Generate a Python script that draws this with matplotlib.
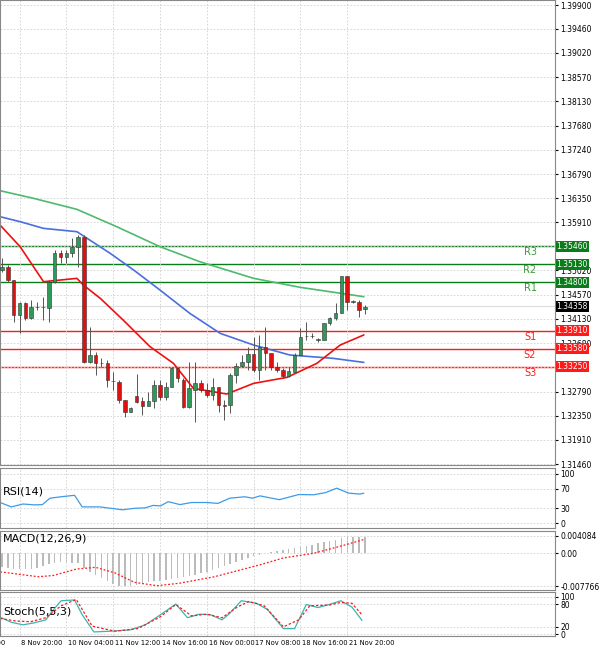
import matplotlib.pyplot as plt
import matplotlib.transforms as mtransforms
import numpy as np

# candles (open, high, low, close)
opens = [1.35027, 1.35088, 1.34843, 1.34199, 1.34414, 1.34138, 1.34353, 1.34347, 1.34322, 1.34812,
         1.35333, 1.35260, 1.35333, 1.35456, 1.35640, 1.33341, 1.33464, 1.33323, 1.33323, 1.32992,
         1.32974, 1.32636, 1.32422, 1.32710, 1.32618, 1.32526, 1.32618, 1.32912, 1.32698, 1.32882,
         1.33219, 1.33004, 1.32514, 1.32820, 1.32943, 1.32820, 1.32728, 1.32869, 1.32544, 1.32544,
         1.33096, 1.33262, 1.33341, 1.33482, 1.33188, 1.33617, 1.33494, 1.33249, 1.33188, 1.33078,
         1.33157, 1.33464, 1.33819, 1.33813, 1.33740, 1.33740, 1.34046, 1.34138, 1.34242, 1.34917,
         1.34445, 1.34445, 1.34304]
closes = [1.35088, 1.34843, 1.34199, 1.34414, 1.34138, 1.34353, 1.34347, 1.34353, 1.34812, 1.35333,
          1.35260, 1.35333, 1.35456, 1.35640, 1.33341, 1.33464, 1.33311, 1.33317, 1.33004, 1.32986,
          1.32636, 1.32422, 1.32483, 1.32606, 1.32526, 1.32618, 1.32912, 1.32698, 1.32882, 1.33219,
          1.33035, 1.32514, 1.32851, 1.32943, 1.32820, 1.32728, 1.32869, 1.32544, 1.32532, 1.33096,
          1.33262, 1.33341, 1.33482, 1.33188, 1.33617, 1.33494, 1.33249, 1.33188, 1.33078, 1.33176,
          1.33464, 1.33801, 1.33813, 1.33819, 1.33752, 1.34046, 1.34138, 1.34242, 1.34917, 1.34445,
          1.34451, 1.34291, 1.34353]
highs = [1.35242, 1.35119, 1.34843, 1.34445, 1.34445, 1.34475, 1.34445, 1.34537, 1.34843, 1.35395,
         1.35395, 1.35395, 1.35610, 1.35671, 1.35671, 1.33985, 1.33525, 1.33403, 1.33372, 1.33157,
         1.33004, 1.32636, 1.32514, 1.33114, 1.32698, 1.32790, 1.33004, 1.33004, 1.32974, 1.33249,
         1.33249, 1.33035, 1.33341, 1.33341, 1.33004, 1.32943, 1.33035, 1.32882, 1.32636, 1.33127,
         1.33311, 1.33464, 1.33617, 1.33801, 1.33832, 1.33985, 1.33494, 1.33341, 1.33219, 1.33249,
         1.33494, 1.33955, 1.34077, 1.33862, 1.33770, 1.34046, 1.34169, 1.34414, 1.34917, 1.34917,
         1.34475, 1.34475, 1.34383]
lows = [1.34996, 1.34812, 1.34077, 1.33862, 1.34108, 1.34120, 1.34291, 1.34108, 1.34077, 1.34782,
        1.35150, 1.35150, 1.35272, 1.35088, 1.33311, 1.33311, 1.33096, 1.33249, 1.32882, 1.32820,
        1.32575, 1.32330, 1.32422, 1.32575, 1.32361, 1.32526, 1.32483, 1.32637, 1.32637, 1.32882,
        1.32974, 1.32483, 1.32483, 1.32238, 1.32790, 1.32698, 1.32637, 1.32422, 1.32269, 1.32391,
        1.32943, 1.33249, 1.33188, 1.33157, 1.33004, 1.33188, 1.33188, 1.33157, 1.33035, 1.33066,
        1.33157, 1.33464, 1.33740, 1.33770, 1.33709, 1.33740, 1.34016, 1.34108, 1.34230, 1.34291,
        1.34414, 1.34169, 1.34218]

# moving averages (bar index, price)
ma_green_x = [-0.34, 5.4, 12.8, 19.6, 27.0, 33.8, 43.0, 51.0, 61.8]
ma_green_y = [1.36486, 1.36345, 1.36143, 1.35824, 1.35456, 1.35180, 1.34874, 1.34708, 1.34537]
ma_blue_x = [-0.34, 3.1, 7.1, 12.8, 18.5, 22.5, 27.0, 32.1, 37.3, 43.0, 49.2, 56.6, 61.8]
ma_blue_y = [1.36008, 1.35916, 1.35793, 1.35732, 1.35333, 1.35027, 1.34659, 1.34230, 1.33862,
             1.33648, 1.33464, 1.33403, 1.33329]
ma_red_x = [-0.34, 3.1, 7.1, 12.8, 13.9, 16.8, 20.7, 25.3, 29.3, 32.7, 38.4, 43.0, 48.7, 53.8, 57.8, 61.8]
ma_red_y = [1.35855, 1.35456, 1.34812, 1.34874, 1.34751, 1.34506, 1.34108, 1.33617, 1.33311, 1.32851,
            1.32747, 1.32943, 1.33053, 1.33311, 1.33648, 1.33832]

res_names = ["R3", "R2", "R1"]
res_levels = [1.35460, 1.35130, 1.34800]
sup_names = ["S1", "S2", "S3"]
sup_levels = [1.33910, 1.33580, 1.33250]
last_price = 1.34358

price_ticks = [1.39900, 1.39460, 1.39020, 1.38570, 1.38130, 1.37680, 1.37240, 1.36790, 1.36350,
               1.35910, 1.35460, 1.35020, 1.34570, 1.34130, 1.33680, 1.33240, 1.32790, 1.32350,
               1.31910, 1.31460]

rsi_x = [-0.3, 1.6, 3.6, 5.5, 6.9, 8.2, 10.1, 12.4, 13.7, 16.7, 20.6, 22.6, 24.5, 25.8, 27.1, 28.4,
         30.4, 32.4, 35.0, 36.9, 38.9, 41.5, 42.8, 44.1, 47.4, 50.7, 53.3, 55.3, 57.2, 59.2, 61.1, 61.8]
rsi_y = [41.8, 32.9, 38.8, 37.0, 37.6, 50.6, 53.5, 56.5, 32.9, 32.9, 27.0, 30.0, 31.0, 35.9, 35.0,
         43.5, 37.6, 41.8, 41.8, 40.0, 50.6, 53.5, 50.6, 55.3, 47.6, 58.0, 57.6, 62.0, 71.0, 61.0, 59.0, 60.6]

# MACD histogram, x 1e-3
macd_hist = [-3.3, -3.4, -3.6, -3.8, -3.8, -3.6, -3.4, -3.0, -2.6,
             -2.3, -2.0, -2.0, -2.2, -2.4,
             -3.5, -4.5, -5.2, -5.8, -6.5,
             -7.2, -7.6, -7.7, -7.6, -7.4, -7.0,
             -6.8, -6.6, -6.4, -6.2, -6.0, -5.8, -5.6, -5.3,
             -5.0, -4.7, -4.4, -4.0, -3.5, -3.0, -2.5, -2.0,
             -1.5, -1.0, -0.6, -0.3, 0.0, 0.2, 0.5, 0.8,
             1.0, 1.3, 1.5, 1.8, 2.0, 2.3, 2.6, 2.9,
             3.2, 3.5, 3.7, 3.9, 3.8, 3.7]
macd_sig_x = [-0.3, 6.2, 8.8, 12.7, 16.0, 19.3, 22.6, 26.5, 30.4, 36.3, 44.1, 48.1, 53.3, 58.5, 61.8]
macd_sig_y = [-4.35, -5.5, -5.2, -3.7, -3.3, -4.6, -6.8, -7.6, -7.0, -5.5, -2.7, -1.1, 0.0, 1.9, 3.2]

stk_x = [-0.3, 1.6, 3.6, 5.5, 7.5, 8.8, 10.1, 12.4, 13.7, 15.7, 18.6, 21.9, 24.5, 27.1, 29.7, 31.7,
         33.7, 35.6, 37.6, 38.9, 40.9, 43.5, 45.4, 48.1, 50.0, 52.0, 54.0, 55.9, 57.9, 59.8, 61.5]
stk_y = [45, 31.4, 24.7, 30, 38, 65, 88.8, 90.8, 51.7, 5.8, 7.8, 11.2, 24.7, 51.7, 80, 43.6,
         53, 51.7, 38, 55, 88.8, 82, 65, 14.6, 14.6, 78.7, 70.6, 78.7, 88.8, 72, 36.8]
std_x = [-0.3, 2.3, 4.9, 7.5, 10.1, 12.7, 15.4, 19.3, 23.2, 27.1, 29.7, 32.4, 35.0, 37.6, 40.2,
         42.2, 44.8, 48.1, 50.7, 52.6, 55.9, 57.9, 59.8, 61.5]
std_y = [41.7, 35, 33, 43.6, 75.3, 92.2, 21.4, 7.8, 14.6, 46.3, 78.7, 48.4, 53, 43.6, 72, 86.8,
         75.3, 19.4, 38, 75.3, 77.3, 84.1, 82, 51.7]

date_idx = [-0.3, 3, 11, 19, 27, 35, 43, 51, 59]
date_labels = ["2:00", "8 Nov 20:00", "10 Nov 04:00", "11 Nov 12:00", "14 Nov 16:00",
               "16 Nov 00:00", "17 Nov 08:00", "18 Nov 16:00", "21 Nov 20:00"]

GREEN = "#0a7d1a"
RED = "#ff1a1a"
XMAX = 94.5
XMIN = -0.34
fs = 5.5

fig = plt.figure(figsize=(6, 6.52), dpi=100)
W = 555 / 600
ax = fig.add_axes([0, 1 - 465 / 652, W, 465 / 652])
ax_rsi = fig.add_axes([0, 1 - 528 / 652, W, 60 / 652])
ax_macd = fig.add_axes([0, 1 - 590 / 652, W, 59 / 652])
ax_st = fig.add_axes([0, 1 - 636 / 652, W, 44 / 652])

for a in (ax, ax_rsi, ax_macd, ax_st):
    a.set_xlim(XMIN, XMAX)
    a.yaxis.tick_right()
    a.tick_params(axis="y", labelsize=fs, length=2, pad=2)
    a.tick_params(axis="x", length=0, labelbottom=False)
    a.set_xticks(date_idx[1:])
    a.grid(True, color="#d0d0d0", linestyle=(0, (2, 2)), linewidth=0.6)
    for s in a.spines.values():
        s.set_color("#888888")
        s.set_linewidth(0.8)

# main price panel
ax.set_ylim(1.31442, 1.39992)
ax.set_yticks(price_ticks)
# tick labels hidden behind the level boxes
hidden = [1.35460, 1.33240]
ax.set_yticklabels(["" if p in hidden else "%.5f" % p for p in price_ticks])

ax.plot(ma_green_x, ma_green_y, color="#4cbb6c", lw=1.2, zorder=2)
ax.plot(ma_blue_x, ma_blue_y, color="#4a6fdc", lw=1.2, zorder=2)
ax.plot(ma_red_x, ma_red_y, color="#ee1111", lw=1.2, zorder=2)

idx = np.arange(len(opens))
for i in idx:
    o, c, h, l = opens[i], closes[i], highs[i], lows[i]
    col = "#2e9a5a" if c >= o else "#e01010"
    ax.vlines(i, l, h, color="#555555", lw=0.7, zorder=3)
    bot, top = min(o, c), max(o, c)
    ax.bar(i, max(top - bot, 0.00004), bottom=bot, width=0.6, color=col,
           edgecolor="#333333", linewidth=0.4, zorder=4)

trans = mtransforms.blended_transform_factory(ax.transAxes, ax.transData)
for name, lv in zip(res_names, res_levels):
    ax.axhline(lv, color=GREEN, lw=1.0, zorder=1)
    ax.text(1.003, lv, "%.5f" % lv, transform=trans, fontsize=fs, color="white", va="center",
            ha="left", bbox=dict(boxstyle="square,pad=0.15", fc=GREEN, ec="none"), zorder=10)
    ax.text(0.955, lv - 0.0011, name, transform=trans, fontsize=7, color="#3a9a3a", va="center", ha="center")
for name, lv in zip(sup_names, sup_levels):
    ax.axhline(lv, color=RED, lw=1.0, zorder=1)
    ax.text(1.003, lv, "%.5f" % lv, transform=trans, fontsize=fs, color="white", va="center",
            ha="left", bbox=dict(boxstyle="square,pad=0.15", fc=RED, ec="none"), zorder=10)
    ax.text(0.955, lv - 0.0011, name, transform=trans, fontsize=7, color=RED, va="center", ha="center")
ax.axhline(last_price, color="#dddddd", lw=0.8, zorder=1)
ax.text(1.003, last_price, "%.5f" % last_price, transform=trans, fontsize=fs, color="white",
        va="center", ha="left", bbox=dict(boxstyle="square,pad=0.15", fc="black", ec="none"), zorder=10)

# RSI
ax_rsi.set_ylim(-10, 112)
ax_rsi.set_yticks([0, 30, 70, 100])
ax_rsi.plot(rsi_x, rsi_y, color="#3c9be8", lw=0.9)
ax_rsi.text(0.005, 0.6, "RSI(14)", transform=ax_rsi.transAxes, fontsize=8, va="center")

# MACD
ax_macd.set_ylim(-8.6, 5.2)
ax_macd.set_yticks([-7.766, 0, 4.084])
ax_macd.set_yticklabels(["-0.007766", "0.00", "0.004084"])
ax_macd.bar(idx, macd_hist, width=0.25, color="#bbbbbb")
ax_macd.plot(macd_sig_x, macd_sig_y, color=RED, lw=0.9, linestyle=(0, (1.5, 1.5)))
ax_macd.text(0.005, 0.88, "MACD(12,26,9)", transform=ax_macd.transAxes, fontsize=8, va="center")

# Stochastic
ax_st.set_ylim(-5, 112)
ax_st.set_yticks([0, 20, 80, 100])
ax_st.plot(stk_x, stk_y, color="#3bb5b0", lw=0.9)
ax_st.plot(std_x, std_y, color=RED, lw=0.9, linestyle=(0, (2, 1.5)))
ax_st.text(0.005, 0.55, "Stoch(5,5,3)", transform=ax_st.transAxes, fontsize=8, va="center")

dtrans = mtransforms.blended_transform_factory(ax_st.transData, ax_st.transAxes)
for x, lab in zip(date_idx, date_labels):
    ha = "right" if x < 0 else "left"
    ax_st.text(x + (0.9 if x < 0 else 0.3), -0.1, lab, transform=dtrans, fontsize=4.9, va="top", ha=ha)

fig.savefig("out.png", dpi=100, facecolor="white")
